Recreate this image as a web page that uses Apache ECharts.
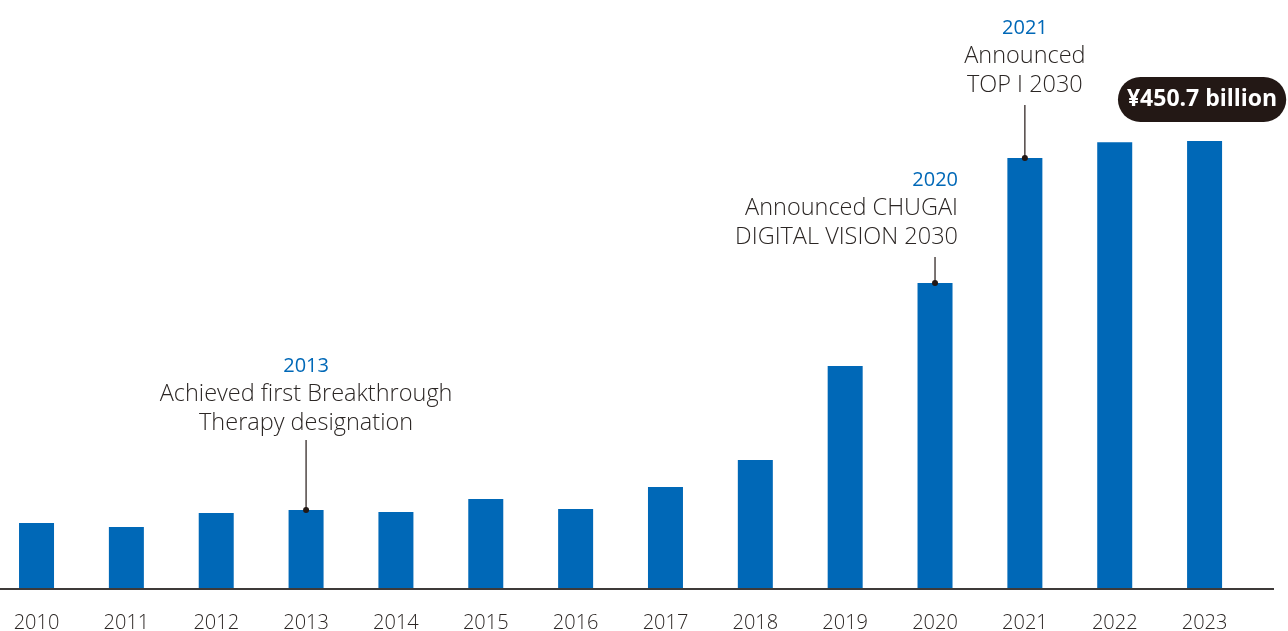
<!DOCTYPE html>
<html><head><meta charset="utf-8">
<script src="https://cdn.jsdelivr.net/npm/echarts@6/dist/echarts.min.js"></script>
<style>html,body{margin:0;padding:0;background:#fff}#c{width:1288px;height:631px}</style>
</head><body><div id="c"></div>
<script>
// ---- data ----
const years = ['2010','2011','2012','2013','2014','2015','2016','2017','2018','2019','2020','2021','2022','2023'];
const values = [66.4, 62.4, 76.5, 79.5, 77.5, 90.5, 80.5, 102.6, 129.8, 224.3, 307.8, 433.6, 449.5, 450.7];
const annoYears = ['2013', '2020', '2021'];
const annoLines = [
  ['Achieved first Breakthrough', 'Therapy designation'],
  ['Announced CHUGAI', 'DIGITAL VISION 2030'],
  ['Announced', 'TOP I 2030']
];
const highlightYear = '2023';

// ---- styles / layout ----
const BLUE = '#0068b7', DARK = '#231815', TEXT = '#2b2624';
const FONT = '"Open Sans", "Noto Sans", sans-serif';
const annoLayout = [
  { stem: 70, dx: 0, align: 'center', gap: 17 },
  { stem: 26, dx: 23, align: 'right', gap: 20 },
  { stem: 53, dx: 0, align: 'center', gap: 20 }
];

const hiIdx = years.indexOf(highlightYear);
const barData = values.map((v, i) => i !== hiIdx ? v : {
  value: v,
  label: {
    show: true, position: 'top', distance: 19, offset: [-2.5, 0],
    formatter: '¥' + v + ' billion',
    backgroundColor: DARK, borderRadius: 23, padding: [11, 9, 11, 9],
    color: '#fff', fontWeight: 'bold', fontSize: 23, lineHeight: 23, fontFamily: FONT
  }
});

const annoData = annoYears.map((y, i) => {
  const k = years.indexOf(y);
  return [k, values[k], i];
});

const chart = echarts.init(document.getElementById('c'));
chart.setOption({
  animation: false,
  grid: { left: -8.4, width: 1257.9, top: 92, bottom: 42, containLabel: false, outerBoundsMode: 'none' },
  xAxis: {
    type: 'category', data: years,
    axisLine: { show: false }, axisTick: { show: false },
    axisLabel: { color: TEXT, fontSize: 20, fontFamily: FONT, fontWeight: 300, margin: 24 }
  },
  yAxis: { type: 'value', min: 0, max: 500, show: false, splitLine: { show: false } },
  graphic: [{
    type: 'line', shape: { x1: 0, y1: 589, x2: 1274, y2: 589 },
    style: { stroke: '#3e3a39', lineWidth: 2 }, z: 100
  }],
  series: [{
    type: 'bar', data: barData, barWidth: 35,
    itemStyle: { color: BLUE }
  }, {
    type: 'custom', coordinateSystem: 'cartesian2d', data: annoData, z: 10, clip: false,
    renderItem(params, api) {
      const i = api.value(2);
      const p = api.coord([api.value(0), api.value(1)]);
      const L = annoLayout[i];
      const topY = p[1] - L.stem;
      const tx = p[0] + L.dx;
      const lines = annoLines[i];
      const children = [
        { type: 'line', shape: { x1: p[0], y1: p[1], x2: p[0], y2: topY }, style: { stroke: DARK, lineWidth: 1.2 } },
        { type: 'circle', shape: { cx: p[0], cy: p[1], r: 3 }, style: { fill: DARK } }
      ];
      const step = 28.5;
      const n = lines.length;
      lines.forEach((t, j) => {
        children.push({
          type: 'text', x: tx, y: topY - L.gap - (n - 1 - j) * step,
          style: { text: t, align: L.align, verticalAlign: 'middle', fill: TEXT, fontSize: 23.5, fontFamily: FONT, fontWeight: 300 }
        });
      });
      children.push({
        type: 'text', x: tx, y: topY - L.gap - n * step,
        style: { text: annoYears[i], align: L.align, verticalAlign: 'middle', fill: BLUE, fontSize: 20, fontFamily: FONT, fontWeight: 400 }
      });
      return { type: 'group', children };
    }
  }]
});
</script>
</body></html>
